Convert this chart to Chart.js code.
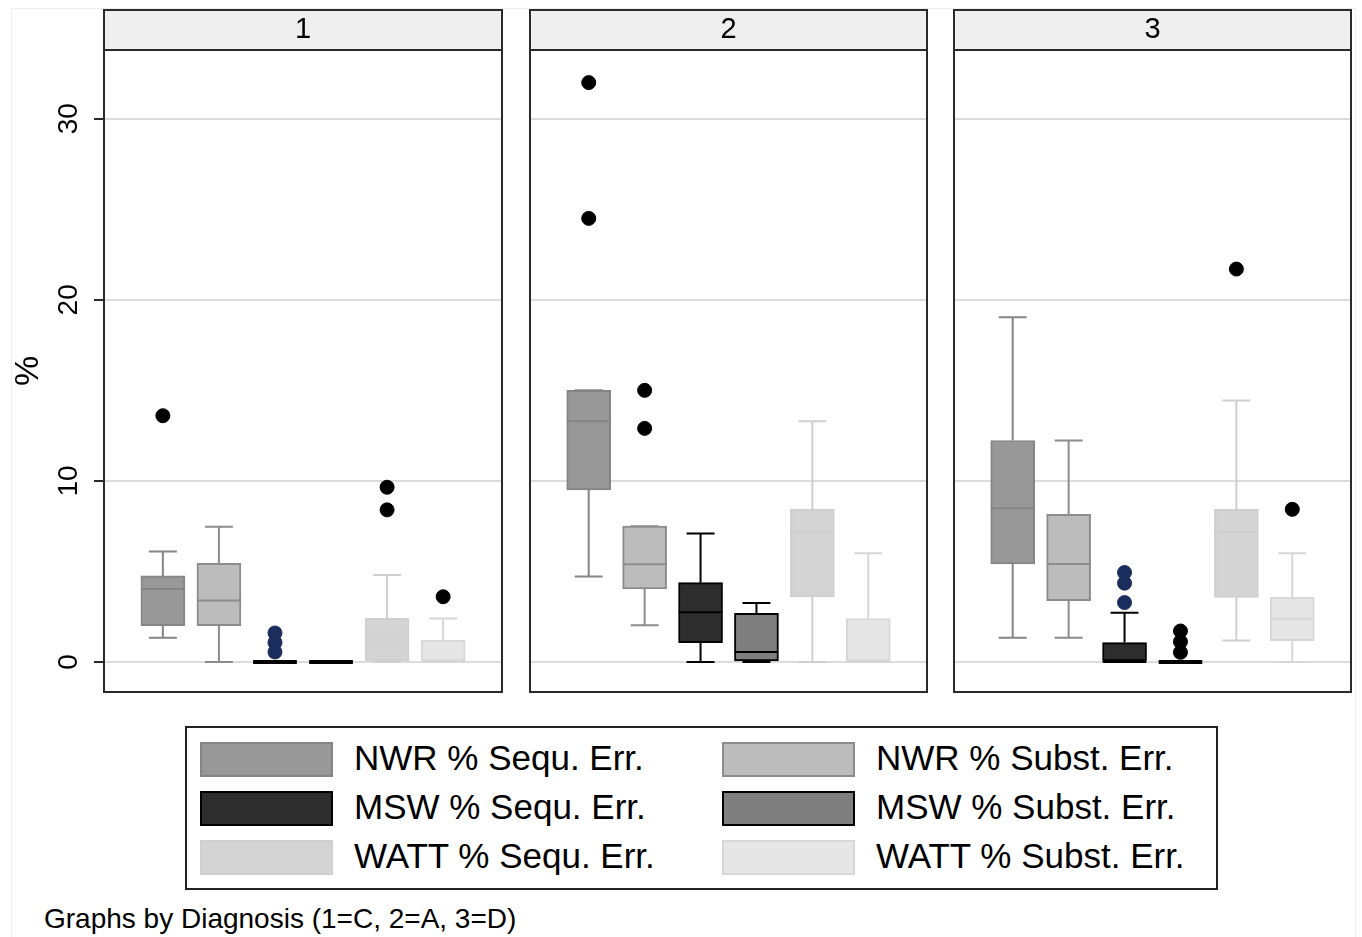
<!DOCTYPE html>
<html>
<head>
<meta charset="utf-8">
<script src="https://cdn.jsdelivr.net/npm/chart.js@4"></script>
<style>
  body { margin: 0; background: #fff; width: 1362px; height: 937px; overflow: hidden; position: relative; font-family: "Liberation Sans", Arial, sans-serif; }
  canvas { position: absolute; top: 0; }
  #frame { position: absolute; left: 11px; top: 8px; width: 1343px; height: 940px; border: 1px solid #efefef; }
  #legend { position: absolute; left: 185px; top: 726px; width: 1029px; height: 160px; border: 2px solid #222; }
  .item { position: absolute; height: 36px; }
  .sw { position: absolute; left: 0; top: 0; width: 129px; height: 31px; border: 2px solid; }
  .lab { position: absolute; left: 154px; top: -4px; font-size: 35px; white-space: nowrap; color: #000; }
  #note { position: absolute; left: 44px; top: 903px; font-size: 28px; color: #000; white-space: nowrap; }
</style>
</head>
<body>
<div id="frame"></div>
<canvas id="panel1" width="510" height="700" style="left:0px"></canvas>
<canvas id="panel2" width="413" height="700" style="left:522px"></canvas>
<canvas id="panel3" width="413" height="700" style="left:946px"></canvas>
<div id="legend"></div>
<div id="note">Graphs by Diagnosis (1=C, 2=A, 3=D)</div>
<script>
// series order inside each panel
var seriesNames = ['NWR % Sequ. Err.', 'NWR % Subst. Err.', 'MSW % Sequ. Err.', 'MSW % Subst. Err.', 'WATT % Sequ. Err.', 'WATT % Subst. Err.'];
var panelNames = ['1', '2', '3'];
var positions = [1, 2, 3, 4, 5, 6];
var yTicks = [0, 10, 20, 30];

// box plot stats, one row per panel, one value per series
var whiskerLow = [
  [1.34, 0, 0, 0, 0, 0],
  [4.72, 2.02, 0, 0, 0, 0],
  [1.34, 1.34, 0, 0, 1.18, 0]
];
var q1 = [
  [2.0, 2.0, 0, 0, 0, 0],
  [9.5, 4.04, 1.07, 0, 3.59, 0],
  [5.41, 3.39, 0, 0, 3.57, 1.18]
];
var median = [
  [4.03, 3.39, 0, 0, 1.21, 0],
  [13.3, 5.4, 2.74, 0.55, 7.2, 0],
  [8.49, 5.41, 0, 0, 7.16, 2.38]
];
var q3 = [
  [4.75, 5.45, 0, 0, 2.41, 1.21],
  [15.0, 7.5, 4.38, 2.69, 8.44, 2.4],
  [12.23, 8.16, 1.07, 0, 8.43, 3.57]
];
var whiskerHigh = [
  [6.1, 7.47, 0, 0, 4.8, 2.4],
  [15.0, 7.5, 7.09, 3.26, 13.3, 6.0],
  [19.04, 12.23, 2.72, 0, 14.44, 6.0]
];
var outliers = [
  [[13.6], [], [1.6, 1.07, 0.55], [], [9.65, 8.4], [3.6]],
  [[32.0, 24.5], [15.0, 12.9], [], [], [], []],
  [[], [], [4.94, 4.35, 3.28], [1.71, 1.12, 0.53], [21.7], [8.43]]
];

// looks
var fillColors = ['#989898', '#bcbcbc', '#2d2d2d', '#7f7f7f', '#d4d4d4', '#e6e6e6'];
var lineColors = ['#858585', '#8c8c8c', '#000000', '#000000', '#cfcfcf', '#d7d7d7'];
var outlierColors = ['#000000', '#000000', '#1b2d5c', '#000000', '#000000', '#000000'];
var capHalf = 0.25;
var boxHalf = 0.39;

Chart.defaults.font.family = '"Liberation Sans", Arial, sans-serif';
Chart.defaults.color = '#000';

// header strip + frame around each panel
var panelFrame = {
  id: 'panelFrame',
  beforeDraw: function(chart) {
    var a = chart.chartArea, ctx = chart.ctx;
    ctx.save();
    ctx.fillStyle = '#efefef';
    ctx.fillRect(a.left, 10, a.right - a.left, a.top - 10);
    ctx.restore();
  },
  afterDraw: function(chart) {
    var a = chart.chartArea, ctx = chart.ctx;
    ctx.save();
    ctx.strokeStyle = '#2a2a2a';
    ctx.lineWidth = 2;
    ctx.strokeRect(a.left, 10, a.right - a.left, a.bottom - 10);
    ctx.beginPath();
    ctx.moveTo(a.left, a.top);
    ctx.lineTo(a.right, a.top);
    ctx.stroke();
    ctx.restore();
  }
};

function makePanel(p) {
  var datasets = [];
  var boxes = [];
  for (var i = 0; i < seriesNames.length; i++) {
    var x = positions[i];
    boxes.push({x: x, y: [q1[p][i], q3[p][i]]});

    datasets.push({
      type: 'line',
      data: [
        {x: x, y: q3[p][i]}, {x: x, y: whiskerHigh[p][i]}, {x: x, y: null},
        {x: x - capHalf, y: whiskerHigh[p][i]}, {x: x + capHalf, y: whiskerHigh[p][i]}, {x: x, y: null},
        {x: x, y: q1[p][i]}, {x: x, y: whiskerLow[p][i]}, {x: x, y: null},
        {x: x - capHalf, y: whiskerLow[p][i]}, {x: x + capHalf, y: whiskerLow[p][i]}
      ],
      borderColor: lineColors[i],
      borderWidth: 2,
      pointRadius: 0,
      spanGaps: false,
      order: 3
    });

    datasets.push({
      type: 'line',
      data: [{x: x - boxHalf, y: median[p][i]}, {x: x + boxHalf, y: median[p][i]}],
      borderColor: lineColors[i],
      borderWidth: (q1[p][i] === q3[p][i]) ? 4 : 2,
      pointRadius: 0,
      order: 1
    });

    var pts = outliers[p][i].map(function(v) { return {x: x, y: v}; });
    if (pts.length) {
      datasets.push({
        type: 'scatter',
        data: pts,
        backgroundColor: outlierColors[i],
        borderColor: outlierColors[i],
        pointRadius: 7,
        order: 0
      });
    }
  }

  datasets.push({
    type: 'bar',
    data: boxes,
    backgroundColor: fillColors,
    borderColor: lineColors,
    borderWidth: 2,
    borderSkipped: false,
    barThickness: 44,
    order: 2
  });

  var first = (p === 0);
  return new Chart(document.getElementById('panel' + (p + 1)), {
    type: 'bar',
    data: { datasets: datasets },
    plugins: [panelFrame],
    options: {
      responsive: false,
      animation: false,
      layout: { padding: { left: first ? 0 : 4, right: 4, top: 10, bottom: 4 } },
      plugins: {
        legend: { display: false },
        tooltip: { enabled: false },
        title: {
          display: true,
          text: panelNames[p],
          fullSize: false,
          color: '#000',
          font: { size: 29, weight: 'normal' },
          padding: { top: 3, bottom: 2.2 }
        }
      },
      scales: {
        x: { type: 'linear', min: -0.05, max: 7.05, offset: false, display: false },
        y: {
          min: -1.66,
          max: 33.8,
          afterBuildTicks: function(scale) {
            scale.ticks = yTicks.map(function(v) { return {value: v}; });
          },
          afterFit: function(scale) {
            scale.width = first ? 104 : 0;
            scale.paddingTop = 0;
            scale.paddingBottom = 0;
          },
          border: { display: false },
          grid: {
            color: '#dcdcdc',
            lineWidth: 2,
            drawTicks: first,
            tickLength: 10,
            tickColor: '#2a2a2a',
            tickWidth: 2
          },
          ticks: {
            display: first,
            minRotation: 90,
            maxRotation: 90,
            crossAlign: 'center',
            padding: 9,
            font: { size: 28 }
          },
          title: {
            display: first,
            text: '%',
            font: { size: 34 },
            padding: { top: 8, bottom: 0 }
          }
        }
      }
    }
  });
}

for (var p = 0; p < panelNames.length; p++) makePanel(p);

// legend box, two columns, row by row
var legend = document.getElementById('legend');
var legendOrder = [0, 1, 2, 3, 4, 5];
legendOrder.forEach(function(i, k) {
  var col = k % 2, row = Math.floor(k / 2);
  var item = document.createElement('div');
  item.className = 'item';
  item.style.left = (13 + col * 522) + 'px';
  item.style.top = (14 + row * 49) + 'px';
  var sw = document.createElement('div');
  sw.className = 'sw';
  sw.style.background = fillColors[i];
  sw.style.borderColor = lineColors[i];
  var lab = document.createElement('div');
  lab.className = 'lab';
  lab.textContent = seriesNames[i];
  item.appendChild(sw);
  item.appendChild(lab);
  legend.appendChild(item);
});
</script>
</body>
</html>
